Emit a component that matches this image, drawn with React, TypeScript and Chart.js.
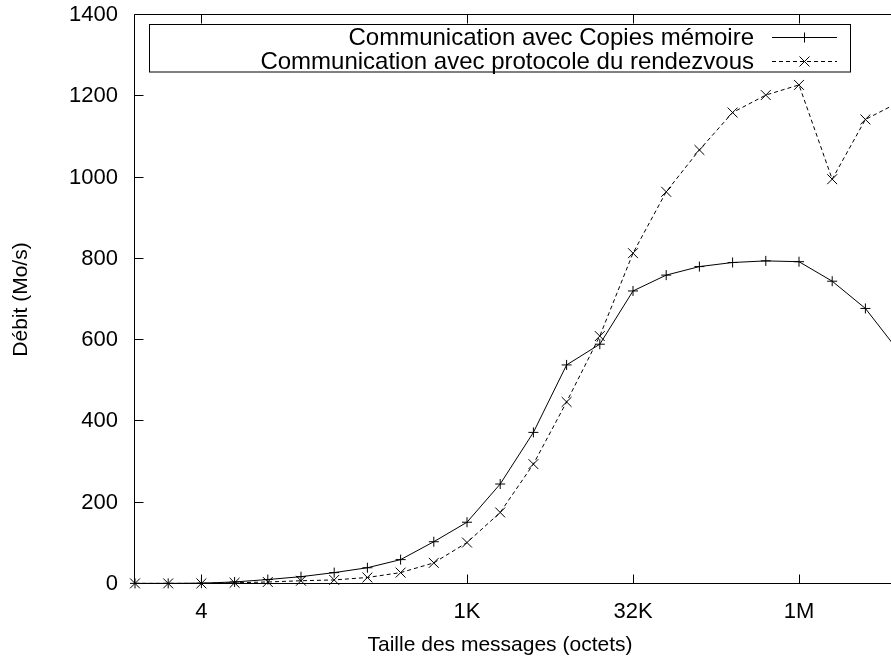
import React, { useEffect, useRef } from 'react';
import { Chart, registerables } from 'chart.js';

Chart.register(...registerables);

// Message sizes in bytes: 2^0 .. 2^23
const SIZES = [
  1, 2, 4, 8, 16, 32, 64, 128, 256, 512, 1024, 2048, 4096, 8192, 16384, 32768,
  65536, 131072, 262144, 524288, 1048576, 2097152, 4194304, 8388608,
];
const COPIES = [
  1.5, 1.5, 2, 5, 11, 18, 28, 40, 60, 104, 152, 246, 373, 539, 590, 721,
  760, 781, 791, 795, 793, 745, 678, 573,
];
const RENDEZVOUS = [
  1.5, 1.5, 1.5, 3, 5, 8, 10, 16, 28, 52, 102, 176, 295, 448, 610, 814,
  965, 1068, 1160, 1203, 1228, 996, 1143, 1185,
];
const LABEL_COPIES = 'Communication avec Copies mémoire';
const LABEL_RDV = 'Communication avec protocole du rendezvous';
const X_TICKS = [4, 1024, 32768, 1048576];
const X_TICK_LABELS = ['4', '1K', '32K', '1M'];
const X_MIN = 1;
const X_MAX = 8388608;
const Y_MIN = 0;
const Y_MAX = 1400;
const Y_STEP = 200;
const X_TITLE = 'Taille des messages (octets)';
const Y_TITLE = 'Débit (Mo/s)';

const FONT = '"Liberation Sans", Arial, Helvetica, sans-serif';
const TICK_SIZE = 22;
const TITLE_SIZE = 21;
const LEGEND_SIZE = 24;

function drawMarker(ctx: CanvasRenderingContext2D, style: string, x: number, y: number) {
  ctx.save();
  ctx.setLineDash([]);
  ctx.lineWidth = 1;
  ctx.strokeStyle = '#000';
  ctx.beginPath();
  if (style === 'cross') {
    ctx.moveTo(x - 5, y);
    ctx.lineTo(x + 5, y);
    ctx.moveTo(x, y - 5);
    ctx.lineTo(x, y + 5);
  } else {
    ctx.moveTo(x - 5, y - 5);
    ctx.lineTo(x + 5, y + 5);
    ctx.moveTo(x - 5, y + 5);
    ctx.lineTo(x + 5, y - 5);
  }
  ctx.stroke();
  ctx.restore();
}

const framePlugin = {
  id: 'gnuplotFrame',
  afterDatasetsDraw(chart: any) {
    const { ctx, chartArea, scales } = chart;
    const xs = scales.x;
    const ys = scales.y;
    const left = Math.round(chartArea.left) - 0.5;
    const top = Math.round(chartArea.top) - 0.5;
    const bottom = Math.round(chartArea.bottom) - 0.5;
    const right = Math.round(chartArea.right) + 0.5;
    ctx.save();
    ctx.strokeStyle = '#000';
    ctx.lineWidth = 1;
    ctx.setLineDash([]);
    // border
    ctx.beginPath();
    ctx.moveTo(left, top);
    ctx.lineTo(right, top);
    ctx.lineTo(right, bottom);
    ctx.lineTo(left, bottom);
    ctx.closePath();
    ctx.stroke();
    // inward ticks
    ctx.beginPath();
    ys.ticks.forEach((t: any) => {
      const y = Math.round(ys.getPixelForValue(t.value)) - 0.5;
      ctx.moveTo(left, y);
      ctx.lineTo(left + 9, y);
    });
    xs.ticks.forEach((t: any) => {
      const x = Math.round(xs.getPixelForValue(t.value)) + 0.5;
      ctx.moveTo(x, bottom);
      ctx.lineTo(x, bottom - 9);
      ctx.moveTo(x, top);
      ctx.lineTo(x, top + 9);
    });
    ctx.stroke();

    // legend box
    ctx.strokeRect(149.5, 24.5, 701, 47.5);
    ctx.font = `${LEGEND_SIZE}px ${FONT}`;
    ctx.fillStyle = '#000';
    ctx.textAlign = 'right';
    ctx.textBaseline = 'middle';
    const rows = [37, 61];
    chart.data.datasets.forEach((ds: any, i: number) => {
      const y = rows[i];
      ctx.fillText(ds.label, 754, y + 1);
      ctx.save();
      ctx.beginPath();
      ctx.setLineDash(ds.borderDash || []);
      ctx.lineWidth = 1;
      ctx.moveTo(772, y + 0.5);
      ctx.lineTo(837, y + 0.5);
      ctx.stroke();
      ctx.restore();
      drawMarker(ctx, ds.pointStyle, 804.5, y + 0.5);
    });

    // x title
    ctx.font = `${TITLE_SIZE}px ${FONT}`;
    ctx.textAlign = 'center';
    ctx.textBaseline = 'middle';
    ctx.fillText(X_TITLE, 500, 645);
    ctx.restore();
  },
};

export default function App() {
  const ref = useRef<HTMLCanvasElement | null>(null);
  useEffect(() => {
    if (!ref.current) return;
    const chart = new Chart(ref.current, {
      type: 'line',
      data: {
        datasets: [
          {
            label: LABEL_COPIES,
            data: SIZES.map((s, i) => ({ x: s, y: COPIES[i] })),
            borderColor: '#000',
            backgroundColor: '#000',
            borderWidth: 1,
            pointStyle: 'cross',
            pointRadius: 5,
            pointBorderWidth: 1,
            pointBorderColor: '#000',
            tension: 0,
            clip: false,
          } as any,
          {
            label: LABEL_RDV,
            data: SIZES.map((s, i) => ({ x: s, y: RENDEZVOUS[i] })),
            borderColor: '#000',
            backgroundColor: '#000',
            borderWidth: 1,
            borderDash: [4, 3],
            pointStyle: 'crossRot',
            pointRadius: 7,
            pointBorderWidth: 1,
            pointBorderColor: '#000',
            tension: 0,
            clip: false,
          } as any,
        ],
      },
      options: {
        animation: false,
        responsive: false,
        devicePixelRatio: 1,
        layout: { padding: { left: 0, top: 15, right: 21.4, bottom: 0 } },
        plugins: {
          legend: { display: false },
          tooltip: { enabled: false },
        },
        scales: {
          x: {
            type: 'logarithmic',
            min: X_MIN,
            max: X_MAX,
            bounds: 'data',
            grid: { display: false, drawTicks: false },
            border: { display: false },
            afterBuildTicks: (scale: any) => {
              scale.ticks = X_TICKS.map((v) => ({ value: v }));
            },
            afterFit: (scale: any) => {
              scale.height = 77;
              scale.paddingLeft = 0;
              scale.paddingRight = 0;
            },
            ticks: {
              autoSkip: false,
              maxRotation: 0,
              minRotation: 0,
              padding: 15,
              color: '#000',
              font: { family: FONT, size: TICK_SIZE },
              callback: (value: any) => {
                const idx = X_TICKS.indexOf(Number(value));
                return idx >= 0 ? X_TICK_LABELS[idx] : '';
              },
            },
          },
          y: {
            type: 'linear',
            min: Y_MIN,
            max: Y_MAX,
            grid: { display: false, drawTicks: false },
            border: { display: false },
            afterFit: (scale: any) => {
              scale.width = 135;
              scale.paddingTop = 0;
              scale.paddingBottom = 0;
            },
            title: {
              display: true,
              text: Y_TITLE,
              color: '#000',
              font: { family: FONT, size: TITLE_SIZE },
              padding: { top: 8.4, bottom: 0 },
            },
            ticks: {
              stepSize: Y_STEP,
              padding: 17,
              color: '#000',
              font: { family: FONT, size: TICK_SIZE },
              callback: (value: any) => String(value),
            },
          },
        },
      },
      plugins: [framePlugin],
    });
    return () => chart.destroy();
  }, []);

  return (
    <div
      style={{
        position: 'fixed',
        left: 0,
        top: 0,
        width: 891,
        height: 661,
        overflow: 'hidden',
        background: '#fff',
      }}
    >
      <canvas ref={ref} width={920} height={661} style={{ display: 'block' }} />
    </div>
  );
}
